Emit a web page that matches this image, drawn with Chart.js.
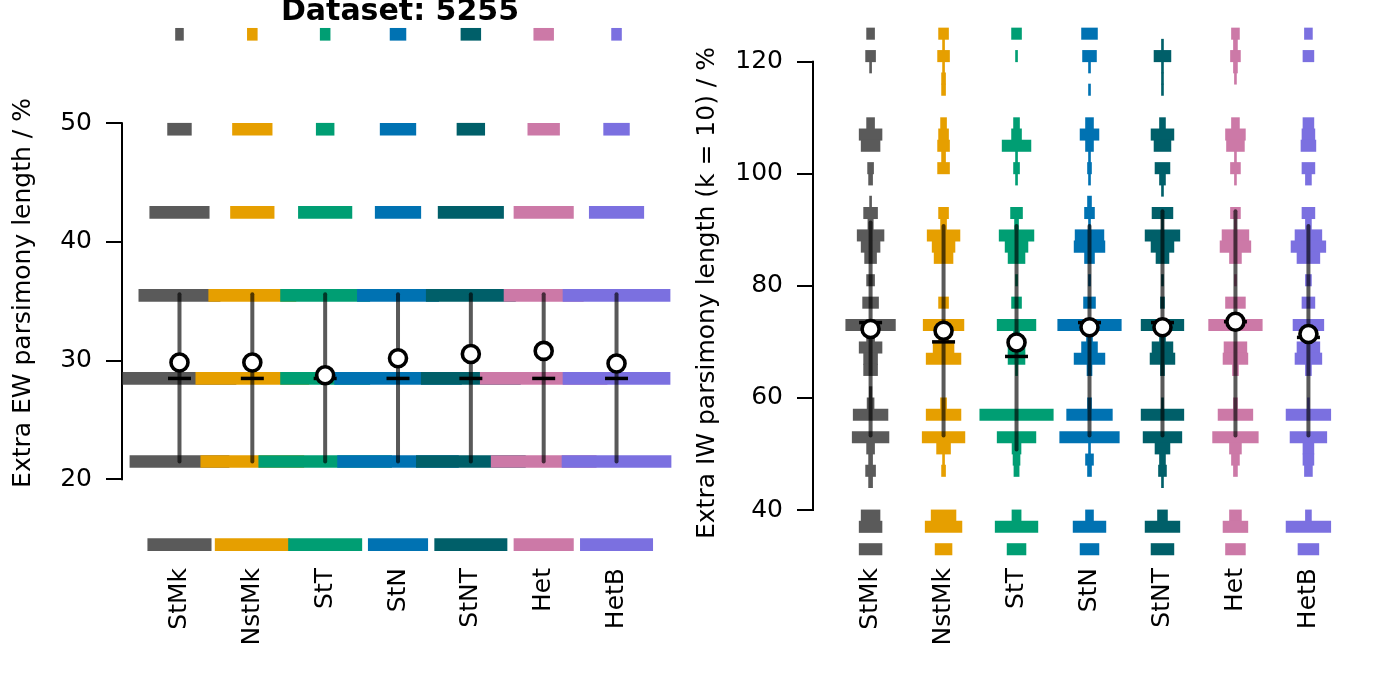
<!DOCTYPE html>
<html>
<head>
<meta charset="utf-8">
<script src="https://cdn.jsdelivr.net/npm/chart.js@4.4.1/dist/chart.umd.min.js"></script>
<style>
    body { margin: 0; background: #fff; }
    #wrap { position: relative; width: 1382px; height: 691px; overflow: hidden; }
    #left { position: absolute; left: 0; top: 0; }
    #right { position: absolute; left: 690px; top: 0; }
    #title {
        position: absolute; left: 0; top: -5px; width: 800px; text-align: center;
        font: bold 30px "DejaVu Sans"; line-height: 30px; color: #000;
    }
</style>
</head>
<body>
<div id="wrap">
    <canvas id="left" width="690" height="691"></canvas>
    <canvas id="right" width="692" height="691"></canvas>
    <div id="title">Dataset: 5255</div>
</div>
<script>
const groups = ["StMk", "NstMk", "StT", "StN", "StNT", "Het", "HetB"];
const groupColors = ["#5a5a5a", "#e69f00", "#009e73", "#0072b2", "#005f69", "#cc79a7", "#7b70e0"];

// equal weights: extra length (%) rows and their frequencies per group
const ewRows = [14.5, 21.5, 28.5, 35.5, 42.5, 49.5, 57.5];
const ewStMk = [32, 50, 57, 41, 30, 12, 4];
const ewNstMk = [37.5, 52, 57, 44, 22, 20, 5];
const ewStT = [37, 67, 45, 45, 27, 9, 5];
const ewStN = [30, 61, 64, 41, 23, 18, 8];
const ewStNT = [36.5, 55, 50, 45, 33, 14, 10];
const ewHet = [30, 53, 64, 40, 30, 16, 10];
const ewHetB = [36.5, 55, 54, 54, 27.5, 13, 5];
const ewLow = [21.5, 21.5, 21.5, 21.5, 21.5, 21.5, 21.5];
const ewHigh = [35.6, 35.6, 35.6, 35.6, 35.6, 35.6, 35.6];
const ewMedian = [28.5, 28.5, 28.5, 28.5, 28.5, 28.5, 28.5];
const ewMean = [29.84, 29.84, 28.77, 30.2, 30.56, 30.82, 29.76];
const ewTicks = [20, 30, 40, 50];

// implied weights (k = 10): 2% bins
const iwBins = [125, 123, 121, 119, 117, 115, 113, 111, 109, 107, 105, 103, 101, 99, 97, 95,
    93, 91, 89, 87, 85, 83, 81, 79, 77, 75, 73, 71, 69, 67, 65, 63,
    61, 59, 57, 55, 53, 51, 49, 47, 45, 43, 41, 39, 37, 35, 33];
const iwStMk = [4, 0, 5, 1, 0, 0, 0, 0, 4, 11.5, 9.5, 0, 3, 2, 0, 1,
    7, 2.7, 13.5, 9.5, 6, 0, 4, 0, 8, 0, 25, 4, 11.5, 7, 7, 0,
    1.3, 3.5, 17.5, 0, 18.5, 4, 2, 5, 2, 0, 0, 9.5, 11.5, 0, 11.5];
const iwNstMk = [5, 1, 6, 1, 2, 2, 0, 0, 3, 5, 6, 2, 6, 0, 0, 0,
    5, 3, 16.5, 11.5, 9.5, 0, 0, 0, 5, 0, 20.5, 5, 10.5, 17.5, 0, 0,
    0, 3, 17.5, 0, 21.5, 7, 1, 2, 0, 0, 0, 12.5, 18.5, 0, 8.5];
const iwStT = [5, 0, 1, 0, 0, 0, 0, 0, 3, 5, 14.5, 1, 3, 1, 0, 0,
    6, 2, 17.5, 11.5, 8.5, 0, 1, 0, 5, 0, 19.5, 3, 8.5, 8.5, 1, 0,
    0, 0, 37, 0, 19.5, 4.5, 3.5, 2.6, 0, 0, 0, 4.6, 21.5, 0, 9.5];
const iwStN = [8, 0, 7, 1, 0, 1, 0, 0, 4, 9.5, 4, 1, 2, 1, 0, 2,
    5, 1, 14.5, 15.5, 5, 0, 1, 0, 6, 0, 32, 3, 8, 15.5, 2.5, 0,
    0, 2, 23, 0, 30, 1, 4, 2, 0, 0, 0, 4, 16.5, 0, 9.5];
const iwStNT = [0, 1, 8.5, 1, 1, 1, 0, 0, 3, 11.5, 8.5, 0, 7.5, 3, 1, 0,
    10.5, 1, 17.5, 11.5, 6.5, 0, 1, 0, 2, 0, 21.5, 3, 10.5, 12.5, 2, 0,
    0, 1, 21.5, 0, 19.5, 7.5, 3, 4, 1, 0, 0, 5, 17.5, 0, 11.5];
const iwHet = [4, 2, 5, 2, 1, 0, 0, 0, 4, 10, 9, 1, 5, 1, 0, 0,
    5, 1, 13.5, 15.5, 6, 0, 1, 0, 10, 0, 27, 0, 11.5, 12.5, 3, 0,
    0, 2, 17.5, 0, 23, 6, 4, 2, 0, 0, 0, 6, 12.5, 0, 10];
const iwHetB = [4, 0, 5.5, 0, 0, 0, 0, 0, 5.5, 6.5, 7.5, 0, 6.5, 3, 0, 0,
    6.5, 3, 13.5, 17.5, 11.5, 0, 3, 0, 6.5, 0, 15.5, 5, 11.5, 13.5, 3, 0,
    0, 1, 22.5, 0, 18.5, 5.5, 5.5, 4, 0, 0, 0, 3, 22.5, 0, 10.5];
const iwLow = [53.3, 53.3, 50.8, 53.3, 53.3, 53.3, 53.3];
const iwHigh = [91.3, 90.7, 90.7, 90.7, 93.3, 93.3, 90.7];
const iwMedian = [73.45, 70.0, 67.4, 73.45, 73.45, 73.6, 70.8];
const iwMean = [72.3, 72.0, 69.9, 72.6, 72.6, 73.6, 71.4];
const iwTicks = [40, 60, 80, 100, 120];

const freqScale = 1 / 73.5;
const font = { family: "DejaVu Sans", size: 25 };

// R style axis line that only spans the tick range
const axisLine = {
    id: "axisLine",
    beforeDatasetsDraw(chart, args, opts) {
        const s = chart.scales.y;
        const ctx = chart.ctx;
        ctx.save();
        ctx.strokeStyle = "#000";
        ctx.lineWidth = 2;
        ctx.beginPath();
        ctx.moveTo(s.right, s.getPixelForValue(opts.from) + 1);
        ctx.lineTo(s.right, s.getPixelForValue(opts.to) - 1);
        ctx.stroke();
        ctx.restore();
    },
};

function buildDatasets(rows, freqs, lows, highs, medians, means, thickness) {
    const ds = [];
    freqs.forEach((f, i) => {
        const c = i + 1;
        ds.push({
            type: "bar",
            indexAxis: "y",
            grouped: false,
            barThickness: thickness,
            backgroundColor: groupColors[i],
            borderWidth: 0,
            order: 10 - i,
            data: rows
                .map((r, j) => ({ y: r, x: [c - f[j] * freqScale, c + f[j] * freqScale], n: f[j] }))
                .filter((d) => d.n > 0),
        });
        ds.push({
            type: "line",
            order: 2,
            borderColor: "rgba(0,0,0,0.65)",
            borderWidth: 4,
            borderCapStyle: "round",
            pointRadius: 0,
            fill: false,
            data: [{ x: c, y: lows[i] }, { x: c, y: highs[i] }],
        });
    });
    ds.push({
        type: "scatter",
        order: 1,
        pointStyle: "line",
        pointRadius: 11.5,
        pointBorderWidth: 3.5,
        pointBorderColor: "#000",
        data: medians.map((m, i) => ({ x: i + 1, y: m })),
    });
    ds.push({
        type: "scatter",
        order: 0,
        pointStyle: "circle",
        pointRadius: 8.5,
        pointBorderWidth: 3.6,
        pointBorderColor: "#000",
        pointBackgroundColor: "#fff",
        data: means.map((m, i) => ({ x: i + 1, y: m })),
    });
    return ds;
}

function makeChart(id, cfg) {
    return new Chart(document.getElementById(id).getContext("2d"), {
        type: "scatter",
        data: { datasets: cfg.datasets },
        plugins: [axisLine],
        options: {
            responsive: false,
            animation: false,
            events: [],
            layout: { padding: { top: 23, right: cfg.rightPad, bottom: 0, left: 0 } },
            plugins: {
                legend: { display: false },
                tooltip: { enabled: false },
                axisLine: { from: cfg.ticks[0], to: cfg.ticks[cfg.ticks.length - 1] },
            },
            scales: {
                x: {
                    type: "linear",
                    min: 0.2109,
                    max: 7.8027,
                    offset: false,
                    beginAtZero: false,
                    afterBuildTicks: (s) => { s.ticks = groups.map((g, i) => ({ value: i + 1 })); },
                    afterFit: (s) => { s.height = 128; },
                    grid: { display: false, drawTicks: false, offset: false },
                    border: { display: false },
                    ticks: {
                        autoSkip: false,
                        minRotation: 90,
                        maxRotation: 90,
                        padding: 5,
                        color: "#000",
                        font: font,
                        callback: (v) => groups[v - 1],
                    },
                },
                y: {
                    type: "linear",
                    min: cfg.yMin,
                    max: cfg.yMax,
                    offset: false,
                    beginAtZero: false,
                    afterBuildTicks: (s) => { s.ticks = cfg.ticks.map((v) => ({ value: v })); },
                    afterFit: (s) => {
                        s.width = cfg.yWidth;
                        s.paddingTop = 0;
                        s.paddingBottom = 0;
                    },
                    grid: { offset: false, drawOnChartArea: false, drawTicks: true, tickLength: 16, color: "#000", lineWidth: 2 },
                    border: { display: false },
                    ticks: { padding: 14, color: "#000", font: font },
                    title: {
                        display: true,
                        text: cfg.yTitle,
                        color: "#000",
                        font: font,
                        padding: { top: cfg.titlePad, bottom: 0 },
                    },
                },
            },
        },
    });
}

makeChart("left", {
    datasets: buildDatasets(ewRows, [ewStMk, ewNstMk, ewStT, ewStN, ewStNT, ewHet, ewHetB],
        ewLow, ewHigh, ewMedian, ewMean, 12),
    ticks: ewTicks,
    yMin: 12.947,
    yMax: 58.452,
    yWidth: 122,
    rightPad: 10,
    titlePad: 8.5,
    yTitle: "Extra EW parsimony length / %",
});

makeChart("right", {
    datasets: buildDatasets(iwBins, [iwStMk, iwNstMk, iwStT, iwStN, iwStNT, iwHet, iwHetB],
        iwLow, iwHigh, iwMedian, iwMean, 11.4),
    ticks: iwTicks,
    yMin: 30.543,
    yMax: 126.906,
    yWidth: 123,
    rightPad: 11,
    titlePad: 2.5,
    yTitle: "Extra IW parsimony length (k = 10) / %",
});
</script>
</body>
</html>
